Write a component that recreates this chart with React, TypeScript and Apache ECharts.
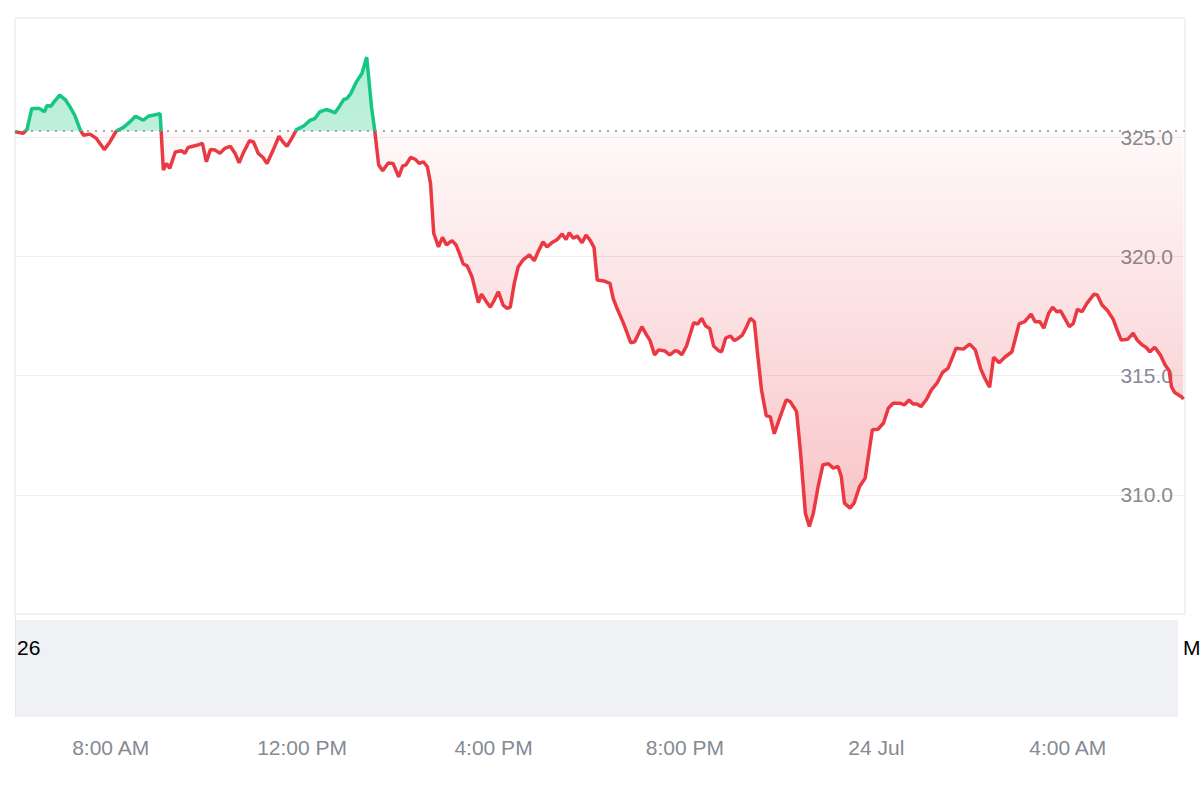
import React, { useEffect, useRef } from "react";
import * as echarts from "echarts";

// time in minutes since 00:00 on 23 Jul
const TIME_MIN = [
  360, 370, 375, 381, 391, 397, 400, 405, 408, 416, 423, 429, 435, 442, 446, 454, 462, 472, 479, 487,
  496, 504, 511, 521, 527, 533, 542, 546, 550, 554, 561, 569, 573, 577, 588, 595, 600, 605, 611, 617,
  623, 630, 636, 641, 646, 654, 659, 665, 671, 676, 684, 691, 696, 701, 707, 713, 722, 730, 736, 742,
  750, 756, 761, 767, 772, 776, 781, 788, 795, 801, 807, 811, 816, 821, 828, 834, 841, 846, 850, 856,
  862, 867, 872, 877, 881, 885, 891, 896, 901, 908, 913, 918, 922, 927, 933, 941, 945, 951, 956, 961,
  966, 972, 977, 981, 986, 991, 997, 1005, 1011, 1016, 1022, 1027, 1033, 1040, 1046, 1051, 1055, 1060, 1065, 1071,
  1076, 1081, 1086, 1090, 1098, 1106, 1110, 1114, 1123, 1132, 1137, 1146, 1152, 1156, 1162, 1167, 1175, 1181, 1188, 1192,
  1196, 1202, 1211, 1216, 1221, 1226, 1231, 1236, 1242, 1246, 1251, 1257, 1262, 1267, 1272, 1277, 1282, 1287, 1291, 1296,
  1302, 1307, 1312, 1318, 1327, 1332, 1340, 1345, 1351, 1356, 1361, 1367, 1373, 1380, 1386, 1392, 1396, 1400, 1407, 1412,
  1419, 1426, 1430, 1435, 1442, 1449, 1455, 1461, 1470, 1475, 1481, 1486, 1491, 1496, 1503, 1509, 1516, 1523, 1530, 1540,
  1549, 1557, 1564, 1571, 1576, 1582, 1587, 1594, 1601, 1610, 1619, 1626, 1634, 1639, 1645, 1650, 1656, 1661, 1666, 1671,
  1677, 1682, 1687, 1692, 1698, 1704, 1713, 1717, 1723, 1730, 1737, 1742, 1747, 1755, 1762, 1767, 1773, 1778, 1783, 1789,
  1796, 1802, 1807, 1810, 1814, 1823, 1825,
];

const PRICE = [
  325.24, 325.16, 325.32, 326.2, 326.2, 326.06, 326.33, 326.3, 326.44, 326.76, 326.58, 326.27, 325.92, 325.29, 325.08, 325.13, 324.95, 324.48, 324.8, 325.26,
  325.41, 325.64, 325.88, 325.71, 325.88, 325.92, 325.99, 323.62, 323.9, 323.69, 324.38, 324.43, 324.32, 324.57, 324.66, 324.74, 323.97, 324.48, 324.46, 324.32,
  324.53, 324.62, 324.32, 323.92, 324.32, 324.85, 324.8, 324.32, 324.15, 323.9, 324.48, 325.04, 324.8, 324.62, 324.95, 325.32, 325.47, 325.71, 325.78, 326.06,
  326.16, 326.1, 326.02, 326.3, 326.58, 326.62, 326.83, 327.32, 327.67, 328.36, 326.27, 325.29, 323.83, 323.59, 323.92, 323.9, 323.34, 323.79, 323.83, 324.15,
  324.07, 323.9, 323.97, 323.76, 323.06, 320.97, 320.4, 320.8, 320.48, 320.66, 320.48, 320.06, 319.68, 319.6, 319.15, 318.06, 318.42, 318.1, 317.87, 318.17,
  318.52, 317.96, 317.82, 317.87, 318.87, 319.57, 319.85, 320.06, 319.82, 320.2, 320.61, 320.4, 320.57, 320.71, 320.94, 320.71, 320.99, 320.76, 320.85, 320.57,
  320.89, 320.68, 320.38, 319.01, 318.97, 318.87, 318.24, 317.89, 317.19, 316.38, 316.42, 317.05, 316.7, 316.49, 315.87, 316.08, 316.03, 315.87, 316.05, 316.0,
  315.87, 316.24, 317.22, 317.16, 317.4, 317.08, 316.98, 316.24, 316.05, 316.0, 316.57, 316.66, 316.47, 316.57, 316.7, 317.03, 317.4, 317.26, 315.94, 314.4,
  313.31, 313.28, 312.56, 313.14, 313.98, 313.91, 313.49, 311.75, 309.23, 308.67, 309.23, 310.35, 311.26, 311.3, 311.12, 311.19, 310.77, 309.65, 309.44, 309.65,
  310.35, 310.7, 311.61, 312.73, 312.75, 313.01, 313.63, 313.84, 313.84, 313.77, 313.98, 313.81, 313.81, 313.7, 314.01, 314.4, 314.68, 315.13, 315.31, 316.15,
  316.11, 316.32, 316.08, 315.27, 314.89, 314.51, 315.77, 315.54, 315.77, 316.0, 317.17, 317.26, 317.58, 317.26, 317.26, 316.99, 317.61, 317.87, 317.68, 317.71,
  317.36, 317.05, 317.19, 317.78, 317.68, 318.03, 318.42, 318.38, 317.96, 317.72, 317.36, 316.91, 316.49, 316.52, 316.78, 316.49, 316.29, 316.19, 316.0, 316.19,
  315.87, 315.45, 315.21, 314.54, 314.29, 314.1, 314.01,
];

const BASELINE = 325.25; // previous close
const X_MIN = 360;
const X_MAX = 1827;
const X_TICKS = [480, 720, 960, 1200, 1440, 1680];
const X_TICK_LABELS = ["8:00 AM", "12:00 PM", "4:00 PM", "8:00 PM", "24 Jul", "4:00 AM"];
const Y_MIN = 305;
const Y_MAX = 330;
const Y_INTERVAL = 5;
const Y_LABELED = [310, 315, 320, 325];
const NAV_LEFT_LABEL = "26";
const NAV_RIGHT_LABEL = "M";

const GREEN = "#16c784";
const RED = "#ea3943";
const FONT = "Arial, 'Liberation Sans', sans-serif";

export default function App() {
  const ref = useRef<HTMLDivElement>(null);

  useEffect(() => {
    if (!ref.current) return;
    const chart = echarts.init(ref.current, undefined, { renderer: "svg" });
    const maxV = Math.max(...PRICE);
    const minV = Math.min(...PRICE);
    const o = (maxV - BASELINE) / (maxV - minV);

    const lineColor = new echarts.graphic.LinearGradient(0, 0, 0, 1, [
      { offset: 0, color: GREEN },
      { offset: o, color: GREEN },
      { offset: o, color: RED },
      { offset: 1, color: RED },
    ]);
    const areaColor = new echarts.graphic.LinearGradient(0, 0, 0, 1, [
      { offset: 0, color: "rgba(22,199,132,0.32)" },
      { offset: o, color: "rgba(22,199,132,0.28)" },
      { offset: o, color: "rgba(234,57,67,0.03)" },
      { offset: 1, color: "rgba(234,57,67,0.30)" },
    ]);

    chart.setOption({
      animation: false,
      backgroundColor: "#ffffff",
      grid: [
        {
          left: 15,
          right: 15,
          top: 18,
          height: 596,
          show: true,
          borderColor: "#e6e6e6",
          borderWidth: 1,
        },
      ],
      xAxis: [
        {
          type: "value",
          min: X_MIN,
          max: X_MAX,
          axisLine: { show: false },
          axisTick: { show: false },
          splitLine: { show: false },
          axisLabel: {
            customValues: X_TICKS,
            formatter: (v: number) => {
              const i = X_TICKS.indexOf(v);
              return i >= 0 ? X_TICK_LABELS[i] : "";
            },
            margin: 123,
            color: "#858a94",
            fontSize: 21,
            fontFamily: FONT,
          },
        },
      ],
      yAxis: [
        {
          type: "value",
          min: Y_MIN,
          max: Y_MAX,
          interval: Y_INTERVAL,
          position: "right",
          axisLine: { show: false },
          axisTick: { show: false },
          splitLine: { show: true, lineStyle: { color: "#eeeeee", width: 1 } },
          axisLabel: {
            inside: true,
            margin: 12,
            color: "#858a94",
            fontSize: 21,
            fontFamily: FONT,
            formatter: (v: number) => (Y_LABELED.indexOf(v) >= 0 ? v.toFixed(1) : ""),
          },
        },
      ],
      series: [
        {
          type: "line",
          data: TIME_MIN.map((t, i) => [t, PRICE[i]]),
          symbol: "none",
          showSymbol: false,
          lineStyle: { width: 3.5, color: lineColor },
          itemStyle: { color: RED },
          areaStyle: { origin: BASELINE, color: areaColor, opacity: 1 },
          z: 3,
          markLine: {
            silent: true,
            symbol: ["none", "none"],
            label: { show: false },
            lineStyle: { type: [2, 6], color: "#8a8a8a", width: 1.5 },
            data: [{ yAxis: BASELINE }],
          },
        },
      ],
      graphic: [
        {
          type: "rect",
          shape: { x: 15, y: 620, width: 1163, height: 97 },
          style: { fill: "#eff1f5" },
          silent: true,
          z: 0,
        },
        {
          type: "line",
          shape: { x1: 15.5, y1: 614, x2: 15.5, y2: 717 },
          style: { stroke: "#e6e6e6", lineWidth: 1 },
          silent: true,
        },
        {
          type: "text",
          x: 17,
          y: 647,
          style: {
            text: NAV_LEFT_LABEL,
            fill: "#000000",
            fontSize: 21,
            fontFamily: FONT,
            verticalAlign: "middle",
            align: "left",
          },
          z: 5,
        },
        {
          type: "text",
          x: 1183,
          y: 647,
          style: {
            text: NAV_RIGHT_LABEL,
            fill: "#000000",
            fontSize: 21,
            fontFamily: FONT,
            verticalAlign: "middle",
            align: "left",
          },
          z: 5,
        },
      ],
    });
    return () => chart.dispose();
  }, []);

  return (
    <div
      ref={ref}
      style={{ position: "fixed", left: 0, top: 0, width: 1200, height: 800, background: "#fff" }}
    />
  );
}
